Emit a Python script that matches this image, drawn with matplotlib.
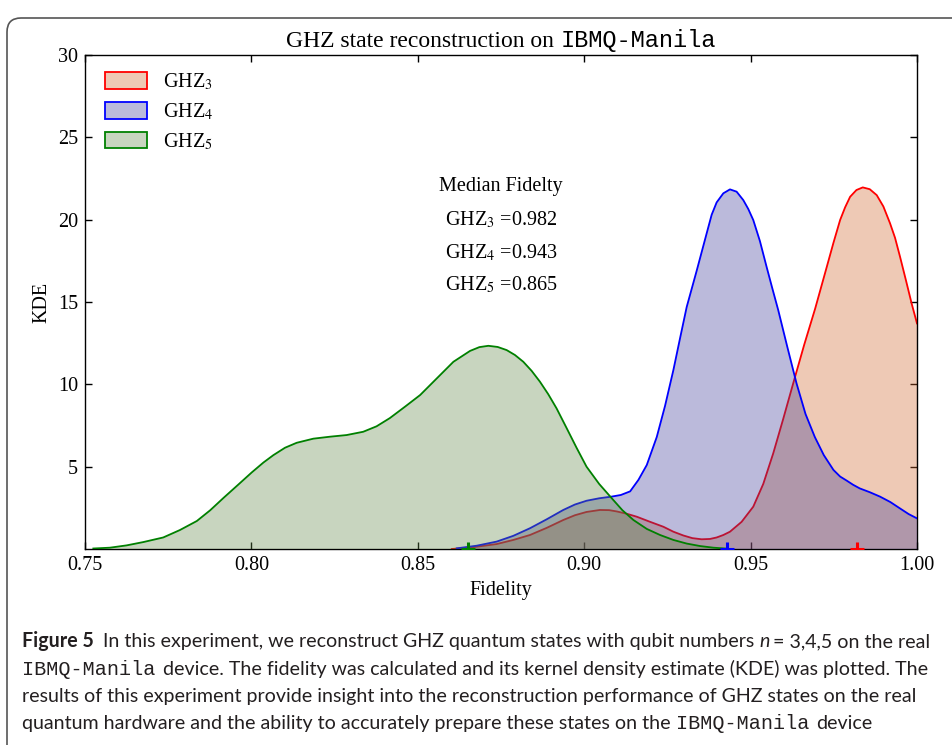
import numpy as np
import matplotlib
matplotlib.use('Agg')
import matplotlib.pyplot as plt
from matplotlib.patches import Patch, FancyBboxPatch
from matplotlib.transforms import IdentityTransform
from matplotlib.colors import to_rgba

# --- data (fidelity, KDE) ---
ghz3_x = [0.8602, 0.8670, 0.8737, 0.8787, 0.8837, 0.8887, 0.8937, 0.8972, 0.9007,
          0.9047, 0.9075, 0.9098, 0.9128, 0.9158, 0.9198, 0.9238, 0.9268, 0.9298,
          0.9325, 0.9353, 0.9378, 0.9398, 0.9418, 0.9438, 0.9473, 0.9508, 0.9538,
          0.9568, 0.9598, 0.9628, 0.9661, 0.9694, 0.9729, 0.9749, 0.9769, 0.9784,
          0.9799, 0.9818, 0.9837, 0.9858, 0.9879, 0.9899, 0.9919, 0.9934, 0.9949,
          0.9967, 0.9984, 1.0]
ghz3_y = [0.0, 0.12, 0.30, 0.55, 0.85, 1.28, 1.76, 2.05, 2.25,
          2.37, 2.36, 2.28, 2.14, 1.96, 1.65, 1.35, 1.05, 0.82,
          0.66, 0.59, 0.61, 0.70, 0.85, 1.05, 1.65, 2.57, 3.95,
          5.81, 7.90, 10.06, 12.40, 14.60, 17.14, 18.60, 19.98, 20.75,
          21.39, 21.80, 21.96, 21.85, 21.49, 20.80, 19.78, 18.90, 17.75,
          16.30, 14.90, 13.70]

ghz4_x = [0.8617, 0.8677, 0.8737, 0.8787, 0.8837, 0.8887, 0.8937, 0.8972, 0.9007,
          0.9045, 0.9082, 0.9110, 0.9138, 0.9163, 0.9188, 0.9218, 0.9243, 0.9268,
          0.9288, 0.9308, 0.9338, 0.9368, 0.9383, 0.9398, 0.9418, 0.9438, 0.9458,
          0.9478, 0.9493, 0.9508, 0.9528, 0.9548, 0.9565, 0.9583, 0.9610, 0.9638,
          0.9665, 0.9693, 0.9720, 0.9749, 0.9769, 0.9789, 0.9808, 0.9828, 0.9858,
          0.9889, 0.9920, 0.9950, 0.9975, 1.0]
ghz4_y = [0.04, 0.20, 0.45, 0.80, 1.26, 1.80, 2.37, 2.70, 2.93,
          3.08, 3.18, 3.28, 3.50, 4.20, 5.10, 6.80, 8.70, 10.87,
          12.80, 14.70, 16.90, 19.17, 20.30, 21.05, 21.60, 21.84, 21.70,
          21.19, 20.65, 19.98, 18.70, 17.14, 15.85, 14.51, 12.30, 10.06,
          8.20, 6.80, 5.70, 4.80, 4.40, 4.15, 3.90, 3.68, 3.45,
          3.18, 2.85, 2.45, 2.12, 1.86]

ghz5_x = [0.7525, 0.7575, 0.7625, 0.7675, 0.7735, 0.7785, 0.7836, 0.7876, 0.7916,
          0.7960, 0.8001, 0.8036, 0.8066, 0.8101, 0.8136, 0.8186, 0.8236, 0.8286,
          0.8336, 0.8376, 0.8416, 0.8462, 0.8507, 0.8557, 0.8607, 0.8657, 0.8685,
          0.8712, 0.8740, 0.8767, 0.8792, 0.8817, 0.8842, 0.8867, 0.8892, 0.8917,
          0.8947, 0.8977, 0.9007, 0.9045, 0.9082, 0.9115, 0.9148, 0.9188, 0.9228,
          0.9268, 0.9308, 0.9348, 0.9388, 0.9430]
ghz5_y = [0.03, 0.08, 0.22, 0.42, 0.70, 1.15, 1.70, 2.35, 3.10,
          3.90, 4.65, 5.25, 5.70, 6.15, 6.45, 6.70, 6.82, 6.92,
          7.12, 7.45, 7.95, 8.65, 9.35, 10.36, 11.37, 12.03, 12.26,
          12.34, 12.27, 12.08, 11.78, 11.37, 10.82, 10.16, 9.40, 8.54,
          7.35, 6.15, 5.00, 3.95, 3.10, 2.35, 1.76, 1.22, 0.85,
          0.55, 0.33, 0.18, 0.08, 0.02]

medians = [0.982, 0.943, 0.865]
names = ['GHZ$_3$', 'GHZ$_4$', 'GHZ$_5$']
line_colors = ['#ff0000', '#0000ff', '#008000']
fill_colors = ['#d1652c', '#3d3a98', '#628748']
fill_alpha = 0.35

plt.rcParams['font.family'] = 'serif'
plt.rcParams['font.serif'] = ['Liberation Serif', 'DejaVu Serif']
plt.rcParams['mathtext.fontset'] = 'stix'

W, H = 952, 745
fig = plt.figure(figsize=(W / 100, H / 100), dpi=100)
ax = fig.add_axes([85 / W, 1 - 549 / H, (917 - 85) / W, (549 - 55) / H])

series = [(ghz3_x, ghz3_y), (ghz4_x, ghz4_y), (ghz5_x, ghz5_y)]
for i, (xs, ys) in enumerate(series):
    ax.fill_between(xs, 0, ys, facecolor=to_rgba(fill_colors[i], fill_alpha),
                    edgecolor='none', zorder=2 + i)
    ax.plot(xs, ys, color=line_colors[i], lw=1.3, zorder=2 + i,
            solid_joinstyle='round')

for i, m in enumerate(medians):
    ax.plot([m], [0], '+', color=line_colors[i], ms=10, mew=2.2, zorder=6)

ax.set_xlim(0.75, 1.0)
ax.set_ylim(0, 30)
ax.set_xticks(np.arange(0.75, 1.001, 0.05))
ax.set_xticklabels(['0.75', '0.80', '0.85', '0.90', '0.95', '1.00'])
ax.set_yticks([5, 10, 15, 20, 25, 30])
ax.tick_params(direction='in', top=True, right=True, length=5, width=1,
               labelsize=14.5, pad=5)
for s in ax.spines.values():
    s.set_linewidth(1.0)
ax.set_xlabel('Fidelity', fontsize=14.5, labelpad=4)
ax.set_ylabel('KDE', fontsize=14.5, labelpad=5)

handles = [Patch(facecolor=to_rgba(fill_colors[i], fill_alpha),
                 edgecolor=line_colors[i], lw=1.3) for i in range(3)]
ax.legend(handles, names, loc='upper left', bbox_to_anchor=(0.024, 0.966),
          frameon=False, borderaxespad=0, borderpad=0, fontsize=14.5,
          handlelength=2.1, handleheight=0.9, handletextpad=0.8,
          labelspacing=0.45)

ax.text(0.5, 0.733, 'Median Fidelty', transform=ax.transAxes, ha='center',
        va='center', fontsize=14.5)
for i in range(3):
    ax.text(0.5, 0.666 - 0.066 * i, '%s =%.3f' % (names[i], medians[i]),
            transform=ax.transAxes, ha='center', va='center', fontsize=14.5)

renderer = fig.canvas.get_renderer()
ident = IdentityTransform()


def text_width(s, kw):
    t = fig.text(0, 0, s, transform=ident, **kw)
    w = t.get_window_extent(renderer).width
    t.remove()
    return w


def space_width(kw):
    return text_width('a a', kw) - text_width('aa', kw)


def draw_runs(runs, x, y_top, center=False):
    # runs: list of (text, props, gap in spaces after)
    y = H - y_top
    widths = [text_width(s, kw) for s, kw, g in runs]
    gaps = [g * space_width(kw) for s, kw, g in runs]
    total = sum(widths) + sum(gaps[:-1])
    cx = x - total / 2 if center else x
    for (s, kw, g), w, gp in zip(runs, widths, gaps):
        fig.text(cx, y, s, transform=ident, va='baseline', ha='left', **kw)
        cx += w + gp


# title
tkw = dict(family='Liberation Serif', size=17)
mkw = dict(family='Liberation Mono', size=17)
draw_runs([('GHZ state reconstruction on', tkw, 1), ('IBMQ-Manila', mkw, 0)],
          501, 47, center=True)

# caption
sans = ['Liberation Sans Narrow', 'Lato', 'DejaVu Sans']
line3 = ('results of this experiment provide insight into the reconstruction '
         'performance of GHZ states on the real')
size = 12 * (915 - 22) / text_width(line3, dict(family=sans, size=12))
ck = dict(family=sans, size=size, color='#231f20')
bk = dict(family=sans, size=size, color='#231f20', weight='bold')
ik = dict(family=sans, size=size, color='#231f20', style='italic')
mk = dict(family='Liberation Mono', size=size * 1.02, color='#231f20')

draw_runs([('Figure 5', bk, 2),
           ('In this experiment, we reconstruct GHZ quantum states with qubit numbers', ck, 1),
           ('n', ik, 0.6), ('= 3,4,5 on the real', ck, 0)], 22, 647)
draw_runs([('IBMQ-Manila', mk, 0.6),
           ('device. The fidelity was calculated and its kernel density estimate (KDE) was plotted. The', ck, 0)],
          22, 675)
draw_runs([(line3, ck, 0)], 22, 702)
draw_runs([('quantum hardware and the ability to accurately prepare these states on the', ck, 1),
           ('IBMQ-Manila', mk, 0.6), ('device', ck, 0)], 22, 729)

box = FancyBboxPatch((7, -40), 1000, H - 18 + 40,
                     boxstyle='round,pad=0,rounding_size=14', transform=ident,
                     facecolor='none', edgecolor='#555555', lw=1.2)
fig.add_artist(box)

fig.savefig('out.png', dpi=100)
